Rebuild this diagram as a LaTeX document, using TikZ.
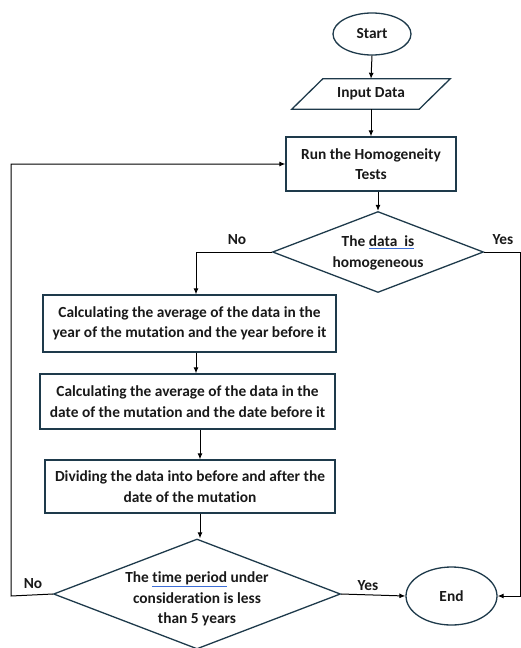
\documentclass[tikz,border=0pt]{standalone}
\usepackage{fontspec}
\setmainfont{Carlito}[Ligatures=NoCommon]
\usetikzlibrary{shapes.geometric,arrows.meta,calc}
\definecolor{outl}{RGB}{30,58,75}
\definecolor{ulblue}{RGB}{60,110,215}
\definecolor{txt}{RGB}{25,25,25}
\newcommand\bu[1]{\textcolor{ulblue}{\underline{\textcolor{txt}{#1}}}}
\begin{document}
\begin{tikzpicture}[x=1pt,y=-1pt,
  font=\fontsize{15.4}{20.5}\selectfont\bfseries, text=txt,
  shp/.style={draw=outl, line width=1.3pt, inner sep=0pt},
  boxnode/.style={shp, rectangle, align=center},
  ovalnode/.style={shp, ellipse},
  dianode/.style={shp, diamond},
  txtnode/.style={align=center, inner sep=0pt},
  lbl/.style={inner sep=0pt},
  conn/.style={draw=black, line width=1pt, -{Latex[length=6pt,width=5pt]}},
  line/.style={draw=black, line width=1pt}]
\useasboundingbox (0,0) rectangle (521,648);

\node[ovalnode, minimum width=78pt, minimum height=42pt] (start) at (372,34) {Start};
\node[txtnode, minimum width=127pt, minimum height=30pt] (input) at (371,94) {Input Data};
\draw[shp] ($(input.south west)+(-15.5,0)$) -- ($(input.north west)+(15.5,0)$)
  -- ($(input.north east)+(15.5,0)$) -- ($(input.south east)+(-15.5,0)$) -- cycle;
\node[boxnode, minimum width=170pt, minimum height=54pt] (run) at (371,164) {Run the Homogeneity\\Tests};
\node[dianode, minimum width=211pt, minimum height=81pt] (d1) at (378,252) {};
\node[txtnode] at ([yshift=-1pt]d1.center) {The \bu{data\ \ is}\\homogeneous};
\node[boxnode, minimum width=293pt, minimum height=57pt] (calc1) at (189.5,323.5) {Calculating the average of the data in the\\year of the mutation and the year before it};
\node[boxnode, minimum width=295pt, minimum height=55pt] (calc2) at (187.5,401.5) {Calculating the average of the data in the\\date of the mutation and the date before it};
\node[boxnode, minimum width=290pt, minimum height=53pt] (calc3) at (190,486.5) {Dividing the data into before and after the\\date of the mutation};
\node[dianode, minimum width=287pt, minimum height=110pt] (d2) at (197,594) {};
\node[txtnode] at ([yshift=-5pt]d2.center) {The \bu{time period} under\\consideration is less\\than 5 years};
\node[ovalnode, minimum width=91pt, minimum height=58pt] (end) at (451.5,596) {End};

\draw[conn] (start.south) -- (input.north);
\draw[conn] (input.south) -- (run.north);
\draw[conn] (run.south -| d1.north) -- (d1.north);
\draw[conn] (d1.west) -| ([xshift=6.5pt]calc1.north);
\draw[conn] ([xshift=6.5pt]calc1.south) -- ([xshift=6.5pt]calc1.south |- calc2.north);
\draw[conn] ([xshift=12.5pt]calc2.south) -- ([xshift=12.5pt]calc2.south |- calc3.north);
\draw[conn] ([xshift=10pt]calc3.south) -- ([xshift=10pt]calc3.south |- d2.north);
\draw[conn] (d2.east) -- (end.west);
\coordinate (lft) at (11,596);
\coordinate (rgt) at (520,252);
\draw[conn] (d2.west) -- (lft) |- (run.west);
\draw[conn] (d1.east) -- (rgt) |- (end.east);

\node[lbl] (no1) at (237,240) {No};
\node[lbl] (yes1) at (503,240) {Yes};
\node[lbl] (no2) at (33,584) {No};
\node[lbl] (yes2) at (368,586) {Yes};
\end{tikzpicture}
\end{document}
